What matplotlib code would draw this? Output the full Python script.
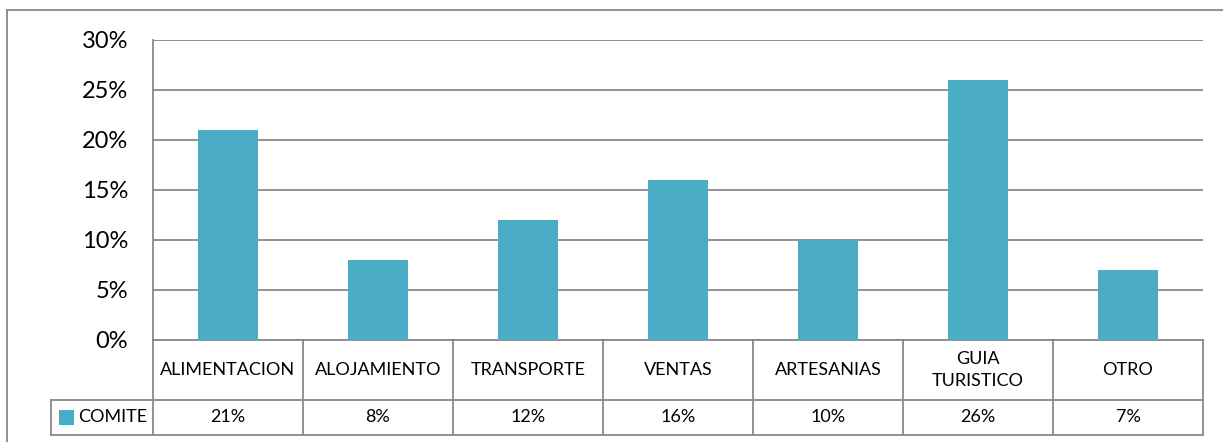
import matplotlib.pyplot as plt
from matplotlib.lines import Line2D
from matplotlib.patches import Rectangle

categorias = ["ALIMENTACION", "ALOJAMIENTO", "TRANSPORTE", "VENTAS",
              "ARTESANIAS", "GUIA\nTURISTICO", "OTRO"]
comite = [0.21, 0.08, 0.12, 0.16, 0.10, 0.26, 0.07]
etiquetas = ["21%", "8%", "12%", "16%", "10%", "26%", "7%"]
serie = "COMITE"

color_barra = "#4BACC6"
gris = "#898989"
plt.rcParams['font.family'] = ['Lato', 'DejaVu Sans']

W, H = 1223, 442
fig = plt.figure(figsize=(W / 100, H / 100), dpi=100)

# area del grafico en pixeles
x0, x1 = 153, 1203
y_top, y_bot = 40, 340
ax = fig.add_axes([x0 / W, 1 - y_bot / H, (x1 - x0) / W, (y_bot - y_top) / H])

n = len(categorias)
ax.bar(range(n), comite, width=0.4, color=color_barra, zorder=3)
ax.set_xlim(-0.5, n - 0.5)
ax.set_ylim(0, 0.30)
ax.set_yticks([0, 0.05, 0.10, 0.15, 0.20, 0.25, 0.30])
ax.set_yticklabels(["0%", "5%", "10%", "15%", "20%", "25%", "30%"], fontsize=17)
ax.tick_params(axis='y', length=0, pad=18)
ax.set_xticks([])
ax.grid(axis='y', color=gris, linewidth=1.3, zorder=0)
for s in ["top", "right", "bottom"]:
    ax.spines[s].set_visible(False)
ax.spines["left"].set_color(gris)
ax.spines["left"].set_linewidth(1.3)

# tabla de datos bajo el grafico (coordenadas de ejes)
h_ax = y_bot - y_top
w_ax = x1 - x0
r1 = -(400 - y_bot) / h_ax
r2 = -(435 - y_bot) / h_ax
leg_x = -(x0 - 51) / w_ax
kw = dict(color=gris, linewidth=1.3, transform=ax.transAxes, clip_on=False)
ax.add_line(Line2D([0, 1], [0, 0], **kw))
ax.add_line(Line2D([leg_x, 1], [r1, r1], **kw))
ax.add_line(Line2D([leg_x, 1], [r2, r2], **kw))
ax.add_line(Line2D([leg_x, leg_x], [r1, r2], **kw))
for i in range(n + 1):
    ax.add_line(Line2D([i / n, i / n], [0, r2], **kw))
for i in range(n):
    xc = (i + 0.5) / n
    ax.text(xc, r1 / 2, categorias[i], transform=ax.transAxes, ha='center',
            va='center', fontsize=13, linespacing=1.45)
    ax.text(xc, (r1 + r2) / 2, etiquetas[i], transform=ax.transAxes,
            ha='center', va='center', fontsize=13)

# leyenda dentro de la tabla
sq = 15 / w_ax
ax.add_patch(Rectangle((-(x0 - 59) / w_ax, (r1 + r2) / 2 - 7.5 / h_ax), sq, 15 / h_ax,
                       facecolor=color_barra, transform=ax.transAxes, clip_on=False))
ax.text(-(x0 - 78) / w_ax, (r1 + r2) / 2, serie, transform=ax.transAxes,
        ha='left', va='center', fontsize=13)

# marco exterior
fk = dict(color=gris, linewidth=1.3, transform=fig.transFigure)
fig.add_artist(Line2D([7 / W, 7 / W], [0, 1 - 10 / H], **fk))
fig.add_artist(Line2D([7 / W, 1], [1 - 10 / H, 1 - 10 / H], **fk))

fig.savefig("out.png", dpi=100)
